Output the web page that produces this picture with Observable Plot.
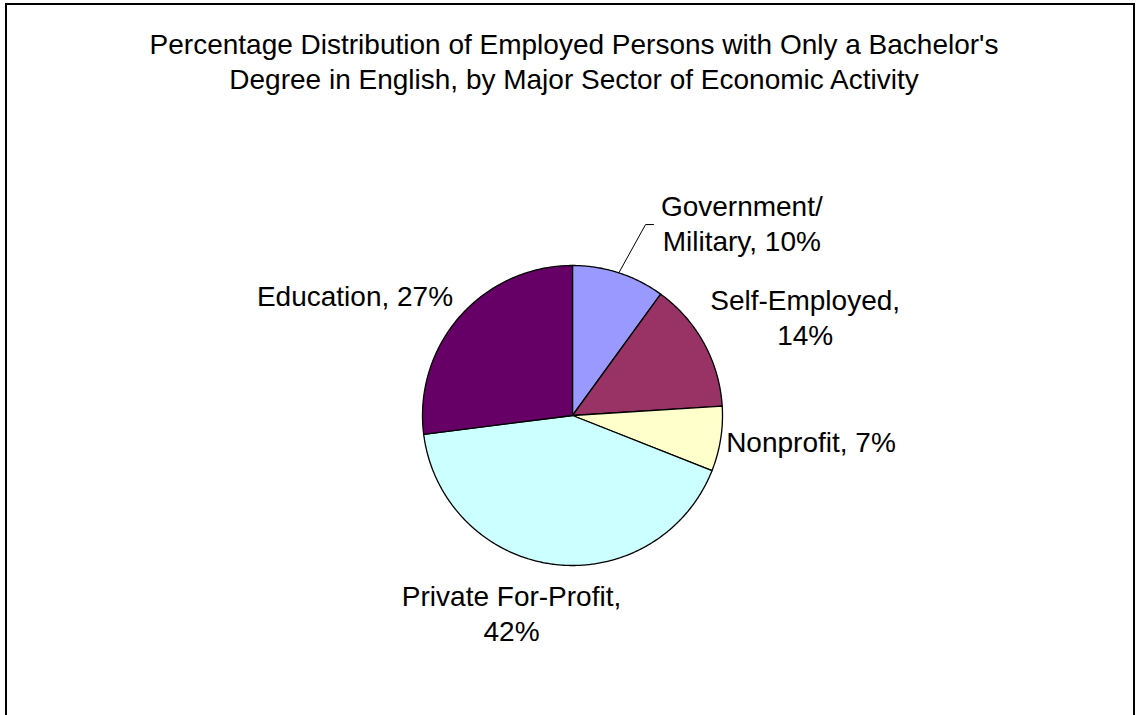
<!DOCTYPE html>
<html>
<head>
<meta charset="utf-8">
<script src="https://cdn.jsdelivr.net/npm/d3@7"></script>
<script src="https://cdn.jsdelivr.net/npm/@observablehq/plot@0.6"></script>
<style>
  html, body { margin: 0; padding: 0; background: #fff; }
  #wrap { position: relative; width: 1138px; height: 715px; overflow: hidden; font-family: "Liberation Sans", Arial, sans-serif; }
  #frame { position: absolute; left: 5px; top: 3px; width: 1130px; height: 760px; border: 2.5px solid #000; box-sizing: border-box; pointer-events: none; }
  #title { position: absolute; left: 2px; top: 27px; width: 1144px; text-align: center; font-size: 28px; line-height: 35px; color: #000; }
  #chart { position: absolute; left: 0; top: 0; }
</style>
</head>
<body>
<div id="wrap">
  <div id="chart"></div>
  <div id="title">Percentage Distribution of Employed Persons with Only a Bachelor's<br>Degree in English, by Major Sector of Economic Activity</div>
  <div id="frame"></div>
</div>
<script>
// Data (clockwise from 12 o'clock)
const categories = ["Government/Military", "Self-Employed", "Nonprofit", "Private For-Profit", "Education"];
const values = [10, 14, 7, 42, 27];
const colors = ["#9999FF", "#993366", "#FFFFCC", "#CCFFFF", "#660066"];
const labelLines = [["Government/", "Military, 10%"], ["Self-Employed,", "14%"], ["Nonprofit, 7%"], ["Private For-Profit,", "42%"], ["Education, 27%"]];
// label anchor: [angle in degrees clockwise from 12 o'clock, distance in pie radii]
const labelAnchors = [[41.6, 1.70], [67.4, 1.68], [96.5, 1.60], [197, 1.39], [298.5, 1.65]];

const W = 1138, H = 715, R = 150, CX = 572, CY = 415;

const pie = d3.pie().sort(null).value(d => d)(values);
const slices = pie.map((p, i) => {
  const pts = [{x: 0, y: 0}];
  const n = Math.max(4, Math.ceil((p.endAngle - p.startAngle) / (Math.PI / 360)));
  for (let k = 0; k <= n; k++) {
    const a = p.startAngle + (p.endAngle - p.startAngle) * k / n;
    pts.push({x: Math.sin(a), y: Math.cos(a)});
  }
  pts.push({x: 0, y: 0});
  return {name: categories[i], color: colors[i], pts, mid: (p.startAngle + p.endAngle) / 2};
});

const labels = [];
labelLines.forEach((lines, i) => {
  const [deg, r] = labelAnchors[i];
  const a = deg * Math.PI / 180;
  const lx = r * Math.sin(a), ly = r * Math.cos(a);
  const lh = 35 / R; // line height in radius units
  lines.forEach((t, j) => {
    labels.push({text: t, x: lx, y: ly + ((lines.length - 1) / 2 - j) * lh});
  });
});

// Leader line for Government/Military (from the arc at mid-angle to the label)
const g = slices[0];
const leader = [
  {x: Math.sin(g.mid), y: Math.cos(g.mid)},
  {x: 0.487, y: 1.273},
  {x: 0.54, y: 1.273}
];

const marks = slices.map(s => Plot.line(s.pts, {x: "x", y: "y", fill: s.color, stroke: "#000", strokeWidth: 1.3, curve: "linear", strokeLinejoin: "round"}));
marks.push(Plot.line(leader, {x: "x", y: "y", stroke: "#000", strokeWidth: 1}));
marks.push(Plot.text(labels, {x: "x", y: "y", text: "text", fontSize: 28, fill: "#000", textAnchor: "middle", lineAnchor: "middle"}));

const chart = Plot.plot({
  width: W, height: H,
  margin: 0,
  x: {domain: [-CX / R, (W - CX) / R], axis: null},
  y: {domain: [-(H - CY) / R, CY / R], axis: null},
  style: {fontFamily: "'Liberation Sans', Arial, sans-serif", background: "transparent", overflow: "visible"},
  marks
});
document.getElementById("chart").appendChild(chart);
</script>
</body>
</html>
